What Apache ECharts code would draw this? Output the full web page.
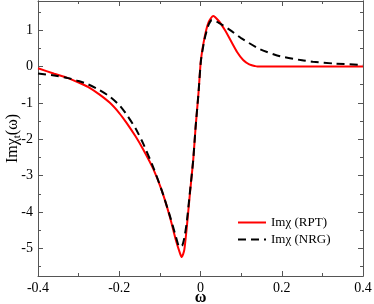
<!DOCTYPE html>
<html><head><meta charset="utf-8">
<script src="https://cdn.jsdelivr.net/npm/echarts@6/dist/echarts.min.js"></script>
<style>html,body{margin:0;padding:0;background:#fff}#c{width:374px;height:304px}</style>
</head><body><div id="c"></div>
<script>
const rptOmega = [-0.4,-0.36,-0.326,-0.3,-0.277,-0.25,-0.223,-0.2,-0.182,-0.16,-0.141,-0.116,-0.095,-0.075,-0.06,-0.05,-0.046,-0.04,-0.034,-0.026,-0.018,-0.012,-0.005,0.001,0.01,0.02,0.031,0.045,0.06,0.075,0.09,0.105,0.12,0.135,0.14,0.2,0.3,0.4];
const rptValues = [-0.05,-0.2,-0.32,-0.44,-0.56,-0.76,-1.0,-1.28,-1.55,-1.92,-2.28,-2.82,-3.42,-4.15,-4.8,-5.15,-5.24,-5.05,-4.45,-3.49,-2.58,-1.66,-0.74,0.18,0.8,1.22,1.39,1.25,1.0,0.7,0.4,0.18,0.06,0.01,0,0,0,0];
const nrgOmega = [-0.4,-0.36,-0.326,-0.3,-0.277,-0.25,-0.223,-0.2,-0.182,-0.16,-0.141,-0.116,-0.095,-0.075,-0.06,-0.052,-0.045,-0.04,-0.034,-0.026,-0.018,-0.012,-0.005,0.001,0.01,0.02,0.028,0.045,0.073,0.1,0.147,0.196,0.25,0.277,0.33,0.4];
const nrgValues = [-0.19,-0.25,-0.32,-0.4,-0.49,-0.64,-0.83,-1.06,-1.32,-1.7,-2.12,-2.78,-3.42,-4.12,-4.7,-4.96,-4.92,-4.72,-4.3,-3.45,-2.58,-1.66,-0.74,0.15,0.75,1.15,1.28,1.2,1.0,0.78,0.47,0.28,0.17,0.13,0.08,0.04];
const xTicks = [-0.4,-0.2,0,0.2,0.4];
const yTicks = [-5,-4,-3,-2,-1,0,1];
const yMinorTicks = [-5.5,-4.5,-3.5,-2.5,-1.5,-0.5,0.5,1.5];

const FONT = 'Liberation Serif';
const AX = '#555';
const pair = (xs, ys) => xs.map((x, i) => [x, ys[i]]);
const YMIN = -5.76, YMAX = 1.8;

const baseX = {
  type: 'value', min: -0.4, max: 0.4, interval: 0.2,
  axisLine: {show: true, onZero: false, lineStyle: {color: AX, width: 1}},
  axisTick: {show: true, inside: true, length: 5, lineStyle: {color: AX}},
  minorTick: {show: true, splitNumber: 2, length: 3, lineStyle: {color: AX}},
  splitLine: {show: false}
};
const baseY = {
  type: 'value', min: YMIN, max: YMAX,
  axisLine: {show: true, onZero: false, lineStyle: {color: AX, width: 1}},
  splitLine: {show: false}
};

const chart = echarts.init(document.getElementById('c'), null, {renderer: 'canvas'});
chart.setOption({
  animation: false,
  backgroundColor: '#fff',
  grid: {left: 38, right: 11, top: 1, bottom: 28, containLabel: false, outerBoundsMode: 'none'},
  legend: {
    orient: 'vertical', left: 232, top: 211, itemWidth: 28, itemHeight: 10, itemGap: 4,
    itemStyle: {opacity: 0},
    textStyle: {fontFamily: FONT, fontSize: 13, color: '#000'},
    data: ['Imχ (RPT)', 'Imχ (NRG)']
  },
  xAxis: [
    Object.assign({}, baseX, {
      position: 'bottom',
      axisLabel: {show: true, fontFamily: FONT, fontSize: 14, color: '#000', margin: 5,
        formatter: v => (Math.abs(v) < 1e-9 ? '0' : String(+v.toFixed(1)))},
      name: 'ω', nameLocation: 'middle', nameGap: 14, nameMoveOverlap: false,
      nameTextStyle: {fontFamily: FONT, fontSize: 16, color: '#000', fontWeight: 'bold'}
    }),
    Object.assign({}, baseX, {position: 'top', axisLabel: {show: false}})
  ],
  yAxis: [
    Object.assign({}, baseY, {
      position: 'left',
      axisTick: {show: true, inside: true, length: 5, customValues: yTicks, lineStyle: {color: AX}},
      axisLabel: {show: true, customValues: yTicks, fontFamily: FONT, fontSize: 14, color: '#000', margin: 5},
      name: '{a|Imχ}{s|t}{a|(ω)}', nameLocation: 'middle', nameGap: 15, nameRotate: 90, nameMoveOverlap: false,
      nameTextStyle: {fontFamily: FONT, fontSize: 16, color: '#000',
        rich: {a: {fontFamily: FONT, fontSize: 16, color: '#000'},
               s: {fontFamily: FONT, fontSize: 11, color: '#000', padding: [9, 0, 0, 0]}}}
    }),
    Object.assign({}, baseY, {
      position: 'left',
      axisTick: {show: true, inside: true, length: 3, customValues: yMinorTicks, lineStyle: {color: AX}},
      axisLabel: {show: false}
    }),
    Object.assign({}, baseY, {
      position: 'right',
      axisTick: {show: true, inside: true, length: 5, customValues: yTicks, lineStyle: {color: AX}},
      axisLabel: {show: false}
    }),
    Object.assign({}, baseY, {
      position: 'right',
      axisTick: {show: true, inside: true, length: 3, customValues: yMinorTicks, lineStyle: {color: AX}},
      axisLabel: {show: false}
    })
  ],
  series: [
    {name: 'Imχ (NRG)', type: 'line', xAxisIndex: 0, yAxisIndex: 0, data: pair(nrgOmega, nrgValues),
     smooth: 0.2, showSymbol: false, symbol: 'none', z: 3,
     lineStyle: {color: '#000', width: 2, type: [8, 5]}, itemStyle: {color: '#000'}},
    {name: 'Imχ (RPT)', type: 'line', xAxisIndex: 0, yAxisIndex: 0, data: pair(rptOmega, rptValues),
     smooth: 0.2, showSymbol: false, symbol: 'none', z: 2,
     lineStyle: {color: '#ff0000', width: 2}, itemStyle: {color: '#ff0000'}}
  ]
});
</script></body></html>
